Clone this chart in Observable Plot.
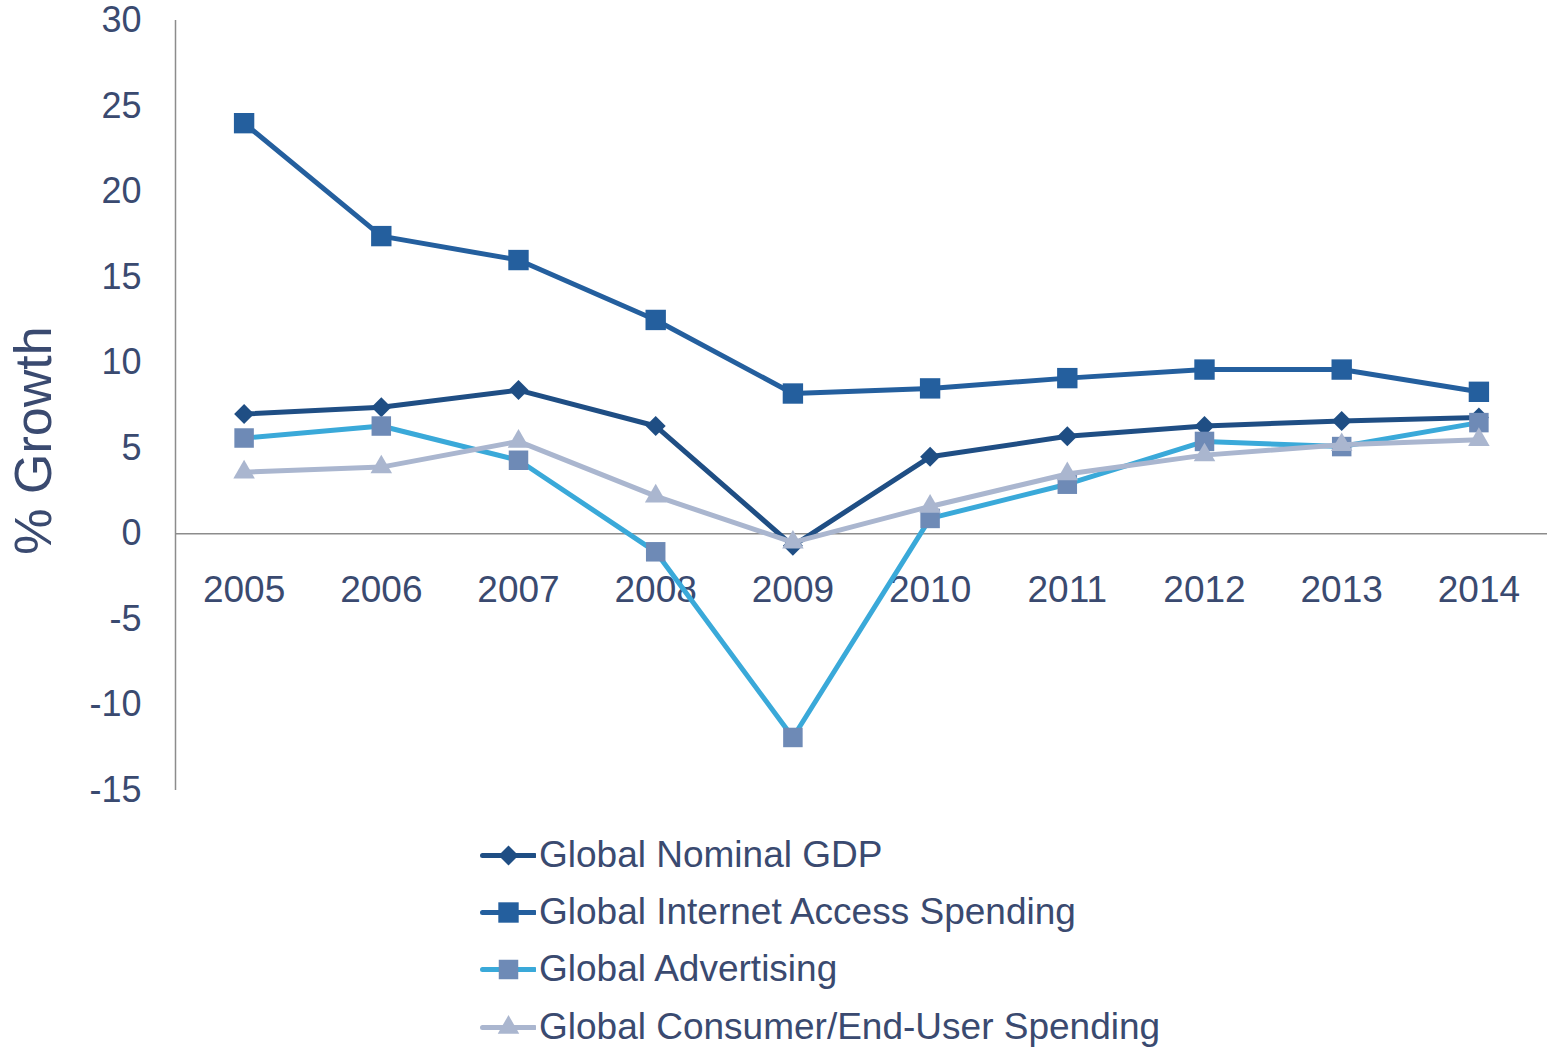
<!DOCTYPE html>
<html>
<head>
<meta charset="utf-8">
<script src="https://cdn.jsdelivr.net/npm/d3@7"></script>
<script src="https://cdn.jsdelivr.net/npm/@observablehq/plot@0.6"></script>
<style>
  html, body { margin: 0; padding: 0; background: #fff; }
  body { width: 1549px; height: 1047px; overflow: hidden; font-family: "Liberation Sans", Arial, sans-serif; }
  #legend { position: absolute; left: 480px; top: 826px; }
  .item { display: flex; align-items: center; height: 57.3px; color: #3a4a70; font-size: 37px; }
  .item svg { margin-right: 3px; }
</style>
</head>
<body>
<div id="chart"></div>
<div id="legend"></div>
<script>
const years = [2005, 2006, 2007, 2008, 2009, 2010, 2011, 2012, 2013, 2014];
const seriesNames = ["Global Nominal GDP", "Global Internet Access Spending", "Global Advertising", "Global Consumer/End-User Spending"];
const gdp = [7.0, 7.4, 8.4, 6.3, -0.7, 4.5, 5.7, 6.3, 6.6, 6.8];
const internet = [24.0, 17.4, 16.0, 12.5, 8.2, 8.5, 9.1, 9.6, 9.6, 8.3];
const advertising = [5.6, 6.3, 4.3, -1.05, -11.9, 0.9, 2.9, 5.4, 5.1, 6.5];
const consumer = [3.6, 3.9, 5.4, 2.2, -0.5, 1.6, 3.5, 4.6, 5.2, 5.5];
const yTicks = [-15, -10, -5, 0, 5, 10, 15, 20, 25, 30];

const styles = [
  {line: "#1f4e84", fill: "#1f4e84", symbol: "diamond2", r: 9},
  {line: "#245f9e", fill: "#245f9e", symbol: "square", r: 11.5},
  {line: "#3aa9d9", fill: "#6e8ab6", symbol: "square", r: 11},
  {line: "#aab6cf", fill: "#aab6cf", symbol: "triangle", r: 8}
];
const values = [gdp, internet, advertising, consumer];
const series = values.map((vals, i) => years.map((y, j) => ({year: y, value: vals[j], series: seriesNames[i]})));

const textColor = "#3a4a70";
const marks = [
  Plot.ruleY([0], {stroke: "#8c8c8c", strokeWidth: 1.5}),
  Plot.ruleX([2004.5], {y1: -15, y2: 30, stroke: "#8c8c8c", strokeWidth: 1.5}),
  Plot.axisY({ticks: yTicks, tickSize: 0, tickPadding: 34, fontSize: 36, label: null, color: textColor, tickFormat: d => String(d)}),
  Plot.text(years, {x: d => d, y: 0, dy: 56, text: d => String(d), fontSize: 37, fill: textColor}),
  Plot.text(["% Growth"], {frameAnchor: "left", textAnchor: "middle", dx: -141, dy: 35, rotate: -90, fontSize: 52, fill: textColor})
];
series.forEach((data, i) => {
  const s = styles[i];
  marks.push(Plot.line(data, {x: "year", y: "value", stroke: s.line, strokeWidth: 5}));
  marks.push(Plot.dot(data, {x: "year", y: "value", symbol: () => s.symbol, fill: s.fill, stroke: "none", r: s.r}));
});

const chart = Plot.plot({
  width: 1549,
  height: 810,
  marginTop: 20,
  marginBottom: 20,
  marginLeft: 175,
  marginRight: 2,
  style: {fontFamily: "'Liberation Sans', Arial, sans-serif", background: "#fff"},
  x: {domain: [2004.5, 2014.5], axis: null},
  y: {domain: [-15, 30], axis: null},
  symbol: {type: "identity"},
  marks
});
document.getElementById("chart").appendChild(chart);

// legend
const legend = document.getElementById("legend");
seriesNames.forEach((name, i) => {
  const s = styles[i];
  const item = document.createElement("div");
  item.className = "item";
  const sw = Plot.plot({
    width: 56, height: 30, margin: 0,
    x: {domain: [0, 1], range: [2, 54], axis: null},
    y: {domain: [0, 1], range: [15, 15], axis: null},
    symbol: {type: "identity"},
    marks: [
      Plot.line([{x: 0, y: 0}, {x: 1, y: 0}], {x: "x", y: "y", stroke: s.line, strokeWidth: 5}),
      Plot.dot([{x: 0.5, y: 0}], {x: "x", y: "y", symbol: () => s.symbol, fill: s.fill, r: s.r})
    ]
  });
  item.appendChild(sw);
  const label = document.createElement("span");
  label.textContent = name;
  item.appendChild(label);
  legend.appendChild(item);
});
</script>
</body>
</html>
